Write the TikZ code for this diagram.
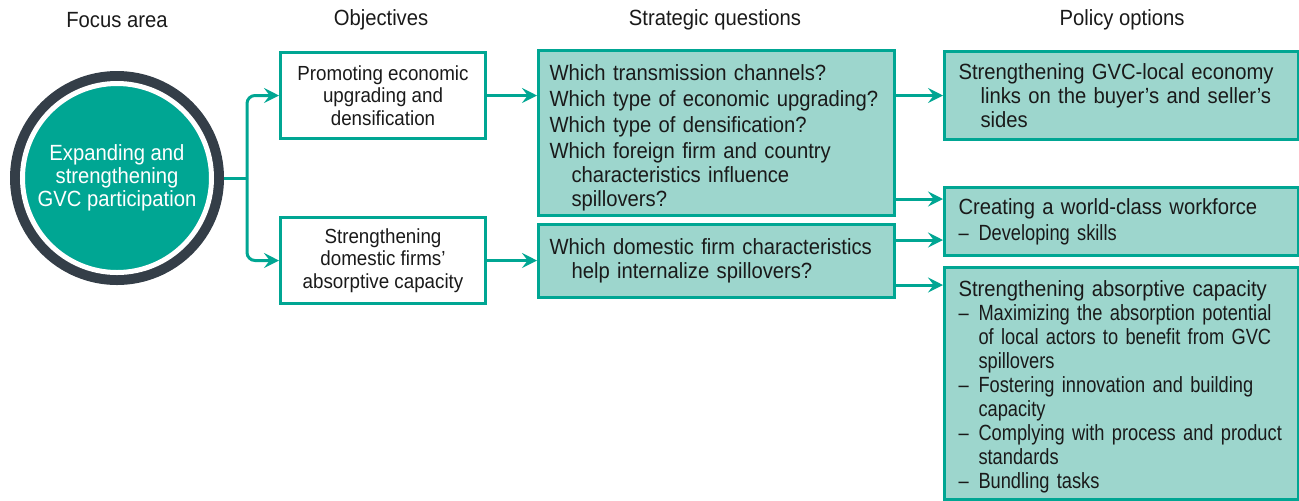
\documentclass[tikz,border=0pt]{standalone}
\usepackage{fontspec}
\setmainfont{Liberation Sans}[FakeStretch=0.92]
\newfontfamily\narrowfont{Liberation Sans}[FakeStretch=0.83]
\usetikzlibrary{arrows.meta,positioning}

\definecolor{gvcteal}{HTML}{00A693}
\definecolor{gvclight}{HTML}{9DD6CD}
\definecolor{ringgray}{HTML}{343E48}
\definecolor{inktext}{HTML}{1A1A1A}

\newcommand{\itemdash}{\makebox[10pt][l]{–}}
\newcommand{\hang}{\hspace*{11pt}}
\newcommand{\cont}{\hspace*{10pt}}

\tikzset{
  heading/.style={font=\fontsize{11}{13}\selectfont, text=inktext},
  objbox/.style={draw=gvcteal, line width=1.5pt, fill=white, anchor=north west,
    minimum width=102.5pt, minimum height=43pt, inner sep=0pt, align=center,
    text=inktext, font=\fontsize{10.2}{11.3}\selectfont},
  sqbox/.style={draw=gvcteal, line width=1.5pt, fill=gvclight, anchor=north west,
    inner xsep=5.5pt, inner ysep=0pt, text width=167pt, align=left,
    text=inktext, font=\fontsize{11}{12}\selectfont},
  polbox/.style={draw=gvcteal, line width=1.5pt, fill=gvclight, anchor=north west,
    inner xsep=7pt, inner ysep=0pt, text width=163pt, align=left,
    text=inktext, font=\fontsize{11}{12}\selectfont},
  link/.style={draw=gvcteal, line width=1.5pt, rounded corners=4pt},
}

\begin{document}
\begin{tikzpicture}[x=0.5pt, y=-0.5pt,
  >={Stealth[length=7.5pt,width=7.5pt,inset=2.8pt]}]
\useasboundingbox (0,0) rectangle (1299,500);

% column headings
\node[heading] (hfocus) at (117,20) {Focus area};
\node[heading] (hobj) at (381,20) {Objectives};
\node[heading] (hsq) at (715,20) {Strategic questions};
\node[heading] (hpol) at (1122,20) {Policy options};

% focus area
\node[circle, fill=ringgray, minimum size=107pt, inner sep=0pt] (ring) at (117,178) {};
\node[circle, fill=gvcteal, draw=white, line width=2.5pt, minimum size=94.5pt,
  inner sep=0pt, align=center, text=white, font=\fontsize{11}{11.4}\selectfont]
  (focus) at (ring.center) {Expanding and\\strengthening\\GVC participation};

% objectives
\node[objbox] (obj1) at (279,51) {Promoting economic\\upgrading and\\densification};
\node[objbox] (obj2) at (279,216) {Strengthening\\domestic firms’\\absorptive capacity};

% strategic questions
\node[sqbox, minimum height=82.5pt] (sq1) at (537,49)
  {\rule{0pt}{13pt}Which transmission channels?\\[1pt]
   Which type of economic upgrading?\\[1pt]
   Which type of densification?\\[1pt]
   Which foreign firm and country\\
   \hang characteristics influence\\
   \hang spillovers?};
\node[sqbox, minimum height=36.5pt] (sq2) at (537,223)
  {\mbox{Which domestic firm characteristics}\\
   \hang help internalize spillovers?};

% policy options
\node[polbox, minimum height=44pt] (pol1) at (943,50)
  {\mbox{Strengthening GVC-local economy}\\
   \hang\mbox{links on the buyer’s and seller’s}\\
   \hang sides};
\node[polbox, minimum height=34pt] (pol2) at (943,186)
  {Creating a world-class workforce\\[1pt]
   {\narrowfont\itemdash Developing skills}};
\node[polbox, minimum height=116pt] (pol3) at (943,266)
  {\rule{0pt}{11pt}\mbox{Strengthening absorptive capacity}\\
   {\narrowfont
   \itemdash\mbox{Maximizing the absorption potential}\\
   \cont\mbox{of local actors to benefit from GVC}\\
   \cont spillovers\\
   \itemdash\mbox{Fostering innovation and building}\\
   \cont capacity\\
   \itemdash\mbox{Complying with process and product}\\
   \cont standards\\
   \itemdash Bundling tasks}};

% connectors
\coordinate (fork) at (247,178);
\draw[link] (ring.east) -- (fork);
\draw[link, ->] (fork) |- (obj1.west);
\draw[link, ->] (fork) |- (obj2.west);
\draw[link, ->] (obj1.east) -- (sq1.west |- obj1.east);
\draw[link, ->] (obj2.east) -- (sq2.west |- obj2.east);
\draw[link, ->] (sq1.east |- pol1.west) -- (pol1.west);
\draw[link, ->] (sq1.east |- 0,199) -- (pol2.west |- 0,199);
\draw[link, ->] (sq2.east |- 0,240) -- (pol2.west |- 0,240);
\draw[link, ->] (sq2.east |- 0,285) -- (pol3.west |- 0,285);
\end{tikzpicture}
\end{document}
